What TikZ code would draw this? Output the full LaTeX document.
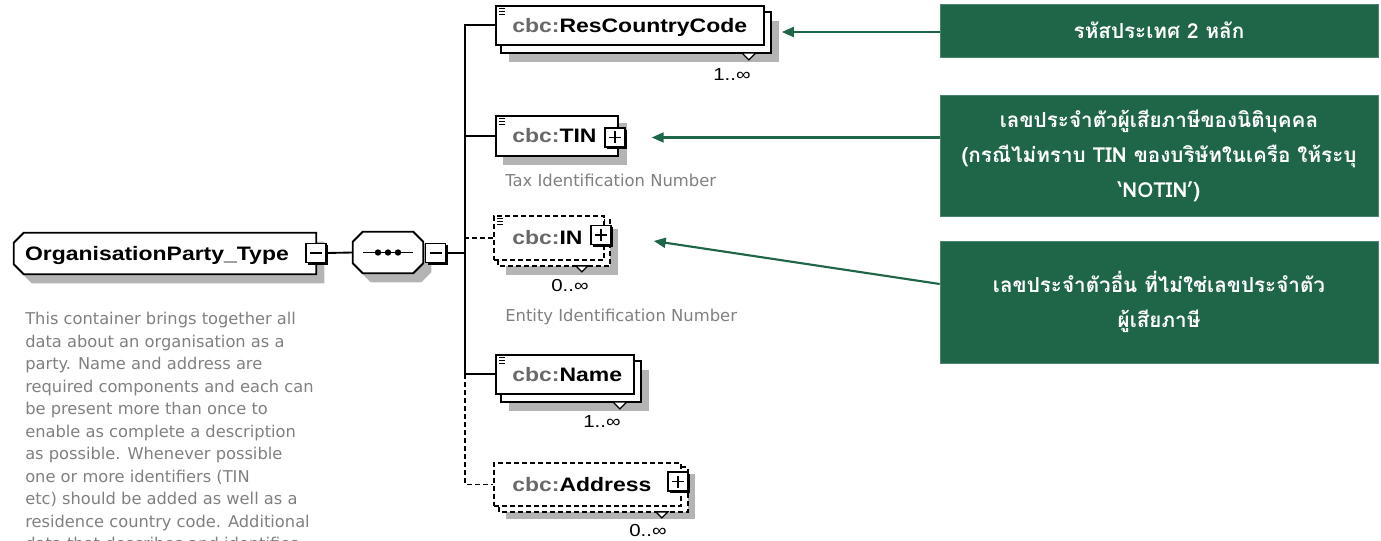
\documentclass[tikz,border=0pt]{standalone}
\usepackage{fontspec}
\setmainfont{Liberation Sans}
\newfontfamily\elfont[FakeStretch=1.18]{Liberation Sans}
\newfontfamily\descfont{DejaVu Sans}
\newfontfamily\thaifont[Script=Thai]{Loma}
\usetikzlibrary{shadows,arrows.meta}
\pgfdeclarelayer{shadowlayer}
\pgfdeclarelayer{backlayer}
\pgfsetlayers{shadowlayer,backlayer,main}
\definecolor{xgreen}{RGB}{31,102,73}
\definecolor{cbcgray}{RGB}{105,105,105}
\definecolor{descgray}{RGB}{128,128,128}
\definecolor{shadowgray}{RGB}{180,180,180}
\tikzset{
  boxline/.style={line width=1.4pt},
  elbox/.style={draw, boxline, fill=white, anchor=north west, inner sep=0pt},
  optbox/.style={elbox, dash pattern=on 3.5pt off 2.5pt},
  backbox/.style={draw, boxline, fill=white},
  optback/.style={backbox, dash pattern=on 3.5pt off 2.5pt},
  ellabel/.style={anchor=base west, inner sep=0pt, font=\elfont\bfseries\fontsize{14.6}{16}\selectfont},
  multlabel/.style={inner sep=0pt, font=\elfont\fontsize{13}{15}\selectfont},
  doclabel/.style={anchor=west, inner sep=0pt, text=descgray, font=\descfont\fontsize{12.3}{15}\selectfont},
  expander/.style={draw, line width=1.1pt, fill=white, minimum width=15pt, minimum height=14.5pt, inner sep=0pt,
    drop shadow={shadow xshift=1.6pt, shadow yshift=-1.6pt, opacity=1, fill=black}},
  plusbox/.style={expander, path picture={\draw[line width=1.1pt]
    ([xshift=-4.5pt]path picture bounding box.center) -- ([xshift=4.5pt]path picture bounding box.center)
    ([yshift=-4.5pt]path picture bounding box.center) -- ([yshift=4.5pt]path picture bounding box.center);}},
  minusbox/.style={expander, path picture={\draw[line width=1.1pt]
    ([xshift=-4.5pt]path picture bounding box.center) -- ([xshift=4.5pt]path picture bounding box.center);}},
  frame/.style={inner sep=0pt, draw=none},
  chamdraw/.style={draw, boxline, fill=white, line join=miter},
  chamshadow/.style={fill=shadowgray, draw=none, transform canvas={shift={(6pt,-6.75pt)}}},
  conn/.style={line width=1.4pt},
  optconn/.style={conn, dash pattern=on 3.5pt off 2.5pt},
  shadowfill/.style={fill=shadowgray, draw=none},
  multmark/.style={draw, line width=1pt, fill=white, line join=miter},
  menuicon/.style={line width=0.75pt},
  notebox/.style={fill=xgreen, draw=xgreen!80!white, line width=0.5pt, text=white, align=center,
    font=\thaifont\bfseries\fontsize{15.5}{26.25}\selectfont, minimum width=328.5pt, inner sep=0pt},
  garrow/.style={draw=xgreen, line width=1.6pt, -{Triangle[length=9pt,width=7.5pt]}}
}
\begin{document}
\begin{tikzpicture}[x=0.75pt,y=-0.75pt]
\useasboundingbox (0,0) rectangle (1381,541);
\clip (0,0) rectangle (1381,541);

% ---------- type box and sequence ----------
\node[frame, minimum width=226.5pt, minimum height=30.75pt] (org) at (165,253.5) {};
\begin{pgfonlayer}{shadowlayer}
\path[chamshadow] ([shift={(10,0)}]org.north west) -- (org.north east) -- (org.south east)
  -- ([shift={(10,0)}]org.south west) -- ([shift={(0,-10)}]org.south west) -- ([shift={(0,10)}]org.north west) -- cycle;
\end{pgfonlayer}
\path[chamdraw] ([shift={(10,0)}]org.north west) -- (org.north east) -- (org.south east)
  -- ([shift={(10,0)}]org.south west) -- ([shift={(0,-10)}]org.south west) -- ([shift={(0,10)}]org.north west) -- cycle;
\node[ellabel] (orgl) at ([shift={(11,7)}]org.west) {OrganisationParty\_Type};
\node[minusbox] (orgminus) at (316,253) {};

\node[frame, minimum width=52.5pt, minimum height=30.75pt] (seq) at (388,252.5) {};
\begin{pgfonlayer}{shadowlayer}
\path[chamshadow] ([shift={(10,0)}]seq.north west) -- ([shift={(-10,0)}]seq.north east) -- ([shift={(0,10)}]seq.north east)
  -- ([shift={(0,-10)}]seq.south east) -- ([shift={(-10,0)}]seq.south east) -- ([shift={(10,0)}]seq.south west)
  -- ([shift={(0,-10)}]seq.south west) -- ([shift={(0,10)}]seq.north west) -- cycle;
\end{pgfonlayer}
\path[chamdraw] ([shift={(10,0)}]seq.north west) -- ([shift={(-10,0)}]seq.north east) -- ([shift={(0,10)}]seq.north east)
  -- ([shift={(0,-10)}]seq.south east) -- ([shift={(-10,0)}]seq.south east) -- ([shift={(10,0)}]seq.south west)
  -- ([shift={(0,-10)}]seq.south west) -- ([shift={(0,10)}]seq.north west) -- cycle;
\draw[line width=1.1pt] ([shift={(-25,0)}]seq.center) -- ([shift={(25,0)}]seq.center);
\fill ([shift={(-10,0)}]seq.center) circle (2.4pt)
      (seq.center) circle (2.4pt)
      ([shift={(10,0)}]seq.center) circle (2.4pt);
\node[minusbox] (seqminus) at (435.5,253) {};

\node[anchor=north west, inner sep=0pt, align=left, text=descgray,
      font=\descfont\fontsize{12.2}{16.9}\selectfont] (orgdoc) at (25,312) {This container brings together all\\
data about an organisation as a\\
party. Name and address are\\
required components and each can\\
be present more than once to\\
enable as complete a description\\
as possible. Whenever possible\\
one or more identifiers (TIN\\
etc) should be added as well as a\\
residence country code. Additional\\
data that describes and identifies};

% ---------- element boxes ----------
\node[elbox, minimum width=201pt, minimum height=29.25pt] (rcc) at (495,5) {};
\node[elbox, minimum width=91.5pt, minimum height=30pt] (tin) at (495,115) {};
\node[optbox, minimum width=82.5pt, minimum height=33pt] (in) at (493,215) {};
\node[elbox, minimum width=103.5pt, minimum height=29.25pt] (name) at (495,354) {};
\node[optbox, minimum width=140.25pt, minimum height=32.25pt] (addr) at (493,462) {};

\begin{pgfonlayer}{backlayer}
\draw[backbox] ([shift={(6,7)}]rcc.north west) rectangle ([shift={(6,7)}]rcc.south east);
\draw[optback] ([shift={(5,5)}]in.north west) rectangle ([shift={(5,5)}]in.south east);
\draw[backbox] ([shift={(6,7)}]name.north west) rectangle ([shift={(6,7)}]name.south east);
\draw[optback] ([shift={(6,5)}]addr.north west) rectangle ([shift={(6,5)}]addr.south east);
\end{pgfonlayer}
\begin{pgfonlayer}{shadowlayer}
\fill[shadowfill] ([shift={(14,16)}]rcc.north west) rectangle ([shift={(14,16)}]rcc.south east);
\fill[shadowfill] ([shift={(8,8)}]tin.north west) rectangle ([shift={(8,8)}]tin.south east);
\fill[shadowfill] ([shift={(13,14)}]in.north west) rectangle ([shift={(13,14)}]in.south east);
\fill[shadowfill] ([shift={(14,16)}]name.north west) rectangle ([shift={(14,16)}]name.south east);
\fill[shadowfill] ([shift={(13,12)}]addr.north west) rectangle ([shift={(13,12)}]addr.south east);
\end{pgfonlayer}

% menu icons
\foreach \b in {rcc,tin,in,name}{
  \draw[menuicon] ([shift={(4,4)}]\b.north west) -- ++(6,0)
                  ([shift={(4,6.8)}]\b.north west) -- ++(6,0)
                  ([shift={(4,9.6)}]\b.north west) -- ++(6,0);
}

% labels
\node[ellabel] (rccl) at ([shift={(17,7)}]rcc.west) {\textcolor{cbcgray}{cbc:}ResCountryCode};
\node[ellabel] (tinl) at ([shift={(17,7)}]tin.west) {\textcolor{cbcgray}{cbc:}TIN};
\node[ellabel] (inl) at ([shift={(19,7)}]in.west) {\textcolor{cbcgray}{cbc:}IN};
\node[ellabel] (namel) at ([shift={(17,7)}]name.west) {\textcolor{cbcgray}{cbc:}Name};
\node[ellabel] (addrl) at ([shift={(19,7)}]addr.west) {\textcolor{cbcgray}{cbc:}Address};

% expanders
\node[plusbox] (tinplus) at (615,137.5) {};
\node[plusbox] (inplus) at (601,235) {};
\node[plusbox] (addrplus) at (678,481.5) {};

% multiplicity markers
\path[multmark] ([shift={(-23,7)}]rcc.south east) -- ([shift={(-9,7)}]rcc.south east) -- ([shift={(-16,14)}]rcc.south east) -- cycle;
\path[multmark] ([shift={(-22,7)}]name.south east) -- ([shift={(-8,7)}]name.south east) -- ([shift={(-15,14)}]name.south east) -- cycle;
\path[multmark] ([shift={(-29,5)}]in.south east) -- ([shift={(-17,5)}]in.south east) -- ([shift={(-23,11)}]in.south east) -- cycle;
\path[multmark] ([shift={(-26,5)}]addr.south east) -- ([shift={(-14,5)}]addr.south east) -- ([shift={(-20,11)}]addr.south east) -- cycle;

\node[multlabel] (rccm) at (732,75) {1..∞};
\node[multlabel] (inm) at (570,286) {0..∞};
\node[multlabel] (namem) at (602,422) {1..∞};
\node[multlabel] (addrm) at (648,531) {0..∞};

\node[doclabel] (tind) at (505,180) {Tax Identification Number};
\node[doclabel] (ind) at (505,317) {Entity Identification Number};

% ---------- connectors ----------
\coordinate (bus) at (465,0);
\draw[conn] (orgminus.east) -- (seq.west);
\draw[conn] (seqminus.east) -- (seqminus.east -| bus);
\draw[conn] (rcc.west) -| (name.west -| bus) -- (name.west);
\draw[conn] (tin.west) -- (tin.west -| bus);
\draw[optconn] (in.west) -- (in.west -| bus);
\draw[optconn] (name.west -| bus) |- (addr.west);

% ---------- notes ----------
\node[notebox, minimum height=39.75pt] (g1) at (1159,30.5) {รหัสประเทศ 2 หลัก};
\node[notebox, minimum height=90.75pt] (g2) at (1159,155.5) {เลขประจำตัวผู้เสียภาษีของนิติบุคคล\\(กรณีไม่ทราบ TIN ของบริษัทในเครือ ให้ระบุ\\‘NOTIN’)};
\node[notebox, minimum height=91.5pt] (g3) at (1159,302) {เลขประจำตัวอื่น ที่ไม่ใช่เลขประจำตัว\\ผู้เสียภาษี};

\coordinate (rcctip) at ([shift={(17,0)}]rcc.east);
\coordinate (tintip) at ([shift={(26,0)}]tinplus.east);
\coordinate (intip) at ([shift={(42,6)}]inplus.east);
\draw[garrow] ([shift={(0,1.5)}]g1.west) -- ([shift={(0,1.5)}]g1.west -| rcctip);
\draw[garrow] (g2.west |- tintip) -- (tintip);
\draw[garrow] ([shift={(0,-18)}]g3.west) -- (intip);
\end{tikzpicture}
\end{document}
